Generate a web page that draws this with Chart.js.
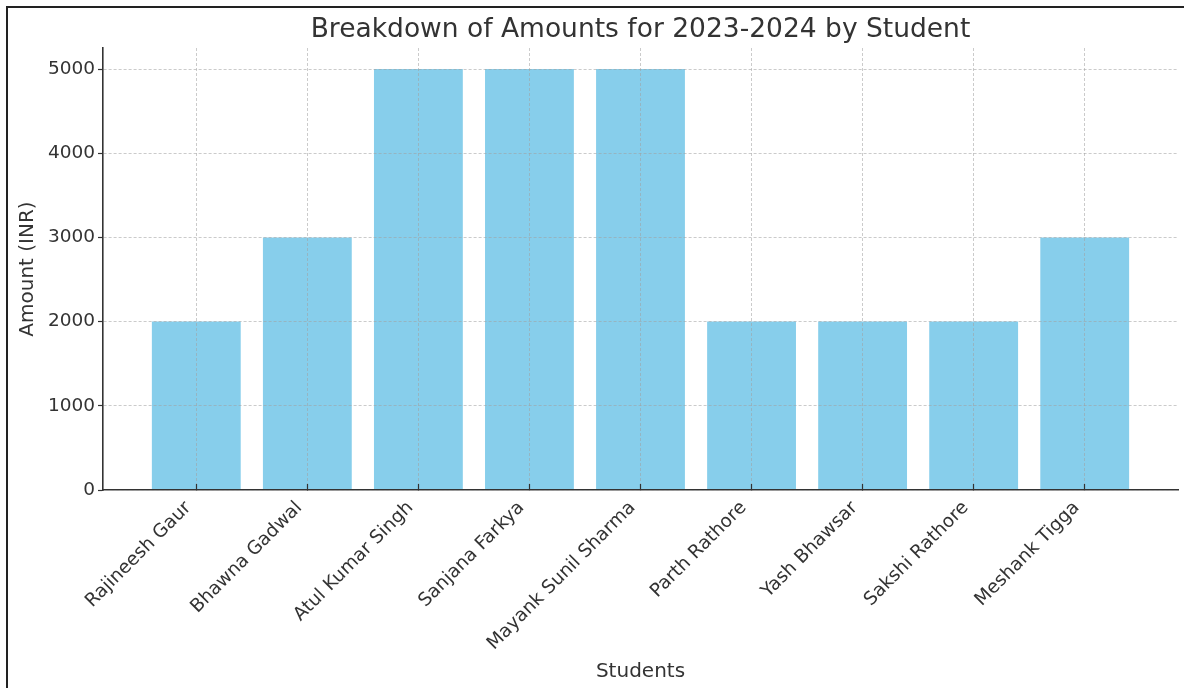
<!DOCTYPE html>
<html lang="en">

<head>
    <meta charset="UTF-8">
    <title>Breakdown of Amounts for 2023-2024 by Student</title>
    <script src="https://cdn.jsdelivr.net/npm/chart.js"></script>
    <style>
        body { margin: 0; background: #fff; }
        /* screenshot-style frame: only top and left edges show */
        .frame { position: absolute; left: 6px; top: 6px; width: 1178px; height: 690px;
                 border-top: 2px solid #222; border-left: 2px solid #222; }
        .wrap { position: absolute; left: 0; top: 0; width: 1184px; height: 688px; }
    </style>
</head>

<body>
    <div class="frame"></div>
    <div class="wrap"><canvas id="amountChart"></canvas></div>

    <script>
        // data
        const students = ['Rajineesh Gaur', 'Bhawna Gadwal', 'Atul Kumar Singh', 'Sanjana Farkya',
            'Mayank Sunil Sharma', 'Parth Rathore', 'Yash Bhawsar', 'Sakshi Rathore', 'Meshank Tigga'];
        const amounts = [2000, 3000, 5000, 5000, 5000, 2000, 2000, 2000, 3000];
        const yTicks = [0, 1000, 2000, 3000, 4000, 5000];

        const textColor = '#333';
        const gridColor = 'rgba(160,160,160,0.55)';
        const font = 'DejaVu Sans';

        const ctx = document.getElementById('amountChart').getContext('2d');
        new Chart(ctx, {
            type: 'bar',
            data: {
                datasets: [{
                    data: amounts.map((v, i) => ({ x: i, y: v })),
                    xAxisID: 'x',
                    yAxisID: 'y',
                    backgroundColor: '#87CEEB',
                    borderWidth: 0,
                    barPercentage: 0.8,
                    categoryPercentage: 1.0
                }]
            },
            options: {
                responsive: true,
                maintainAspectRatio: false,
                animation: false,
                layout: { autoPadding: false, padding: { left: 0, right: 6, top: 0, bottom: 0 } },
                plugins: {
                    legend: { display: false },
                    tooltip: { enabled: false },
                    title: { display: false }
                },
                scales: {
                    // empty top axis only carries the title, so it centres over the plot area
                    head: {
                        type: 'linear',
                        position: 'top',
                        display: true,
                        min: 0,
                        max: 1,
                        afterFit: s => { s.height = 48; },
                        grid: { display: false, drawTicks: false },
                        border: { display: false },
                        ticks: { display: false },
                        title: {
                            display: true,
                            text: 'Breakdown of Amounts for 2023-2024 by Student',
                            color: textColor,
                            font: { family: font, size: 26.5, lineHeight: 1.2 },
                            padding: { top: 14, bottom: 0 }
                        }
                    },
                    x: {
                        type: 'linear',
                        position: 'bottom',
                        min: -0.84,
                        max: 8.84,
                        offset: false,
                        afterBuildTicks: s => { s.ticks = students.map((_, i) => ({ value: i })); },
                        afterFit: s => { s.height = 198; },
                        grid: {
                            z: 1,
                            offset: false,
                            color: gridColor,
                            lineWidth: 1,
                            tickLength: -6,
                            tickColor: textColor,
                            tickWidth: 1.2,
                            tickBorderDash: []
                        },
                        border: { z: 1, color: textColor, width: 1.6, dash: [3, 2] },
                        ticks: {
                            color: textColor,
                            font: { family: font, size: 18.5 },
                            minRotation: 45,
                            maxRotation: 45,
                            padding: 13,
                            labelOffset: -8,
                            autoSkip: false,
                            callback: v => students[v]
                        },
                        title: {
                            display: true,
                            text: 'Students',
                            color: textColor,
                            font: { family: font, size: 20, lineHeight: 1.2 },
                            padding: { top: 1 }
                        }
                    },
                    y: {
                        min: 0,
                        max: 5250,
                        afterBuildTicks: s => { s.ticks = yTicks.map(v => ({ value: v })); },
                        afterFit: s => { s.width = 103; },
                        grid: {
                            z: 1,
                            color: gridColor,
                            lineWidth: 1,
                            tickLength: 5,
                            tickColor: textColor,
                            tickWidth: 1.2,
                            tickBorderDash: []
                        },
                        border: { z: 1, color: textColor, width: 1.6, dash: [3, 2] },
                        ticks: {
                            color: textColor,
                            font: { family: font, size: 18.5 },
                            padding: 3,
                            callback: v => String(v)
                        },
                        title: {
                            display: true,
                            text: 'Amount (INR)',
                            color: textColor,
                            font: { family: font, size: 20, lineHeight: 1.2 },
                            padding: { top: 16 }
                        }
                    }
                }
            }
        });
    </script>

</body>

</html>
